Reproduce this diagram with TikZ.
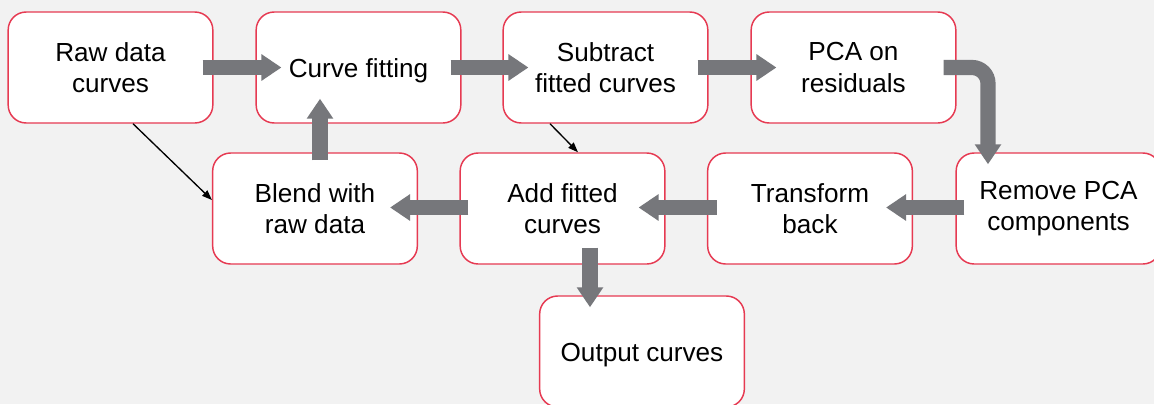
\documentclass[tikz,border=0pt]{standalone}
\usepackage{fontspec}
\setmainfont{Liberation Sans}
\usetikzlibrary{arrows.meta,calc}
\definecolor{bgcol}{HTML}{F2F2F2}
\definecolor{boxred}{RGB}{230,58,82}
\definecolor{flowgray}{RGB}{118,119,123}
\tikzset{
  stage/.style={draw=boxred, line width=1.1pt, fill=white, rounded corners=13.5pt,
    minimum width=153.5pt, minimum height=83.25pt, align=center, inner sep=0pt,
    font=\fontsize{19.6}{23.4}\selectfont,
    execute at begin node={\rule{0pt}{19pt}}},
  flow/.style={draw=flowgray, line width=11.4pt, line cap=butt,
    -{Triangle[length=15pt,width=19pt]}, flowgray},
  link/.style={draw=black, line width=1pt, -{Triangle[length=7.5pt,width=5.5pt]}}
}
\begin{document}
\begin{tikzpicture}[x=0.75pt,y=-0.75pt]
  % page and background
  \fill[bgcol] (0,0) rectangle (1154,404);
  \useasboundingbox (0,0) rectangle (1154,404);

  % processing stages
  \node[stage] (raw)    at (110.5,67.5)  {Raw data\\curves};
  \node[stage] (fit)    at (358.5,67.5)  {Curve fitting};
  \node[stage] (sub)    at (605.5,67.5)  {Subtract\\fitted curves};
  \node[stage] (pca)    at (853.5,67.5)  {PCA on\\residuals};
  \node[stage] (blend)  at (315,208.5)   {Blend with\\raw data};
  \node[stage] (add)    at (562.5,208.5) {Add fitted\\curves};
  \node[stage] (back)   at (810,208.5)   {Transform\\back};
  \node[stage] (remove) at (1058.5,208.5){Remove PCA\\components};
  \node[stage] (out)    at (642,351.5)   {Output curves};

  % main flow
  \draw[flow] ($(raw.east)+(-11,0)$) -- ($(fit.west)+(26,0)$);
  \draw[flow] ($(fit.east)+(-11,0)$) -- ($(sub.west)+(26,0)$);
  \draw[flow] ($(sub.east)+(-11,0)$) -- ($(pca.west)+(26,0)$);
  \draw[flow, rounded corners=12pt] ($(pca.east)+(-13,0)$) -| ($(remove.north)+(-70.5,12)$);
  \draw[flow] ($(remove.west)+(9,-1)$) -- ($(back.east)+(-27,-1)$);
  \draw[flow] ($(back.west)+(10,-1)$) -- ($(add.east)+(-27,-1)$);
  \draw[flow] ($(add.west)+(9,-1)$) -- ($(blend.east)+(-28,-1)$);
  \draw[flow] ($(blend.north)+(5,8)$) -- ($(fit.south)+(-38.5,-25)$);
  \draw[flow] ($(add.south)+(27.5,-17)$) -- ($(out.north)+(-52,12)$);

  % side links
  \draw[link] ($(raw.south)+(22.5,0)$) -- ($(blend.west)+(0,-8.5)$);
  \draw[link] ($(sub.south)+(-55.5,0)$) -- ($(add.north)+(15.5,0)$);
\end{tikzpicture}
\end{document}
